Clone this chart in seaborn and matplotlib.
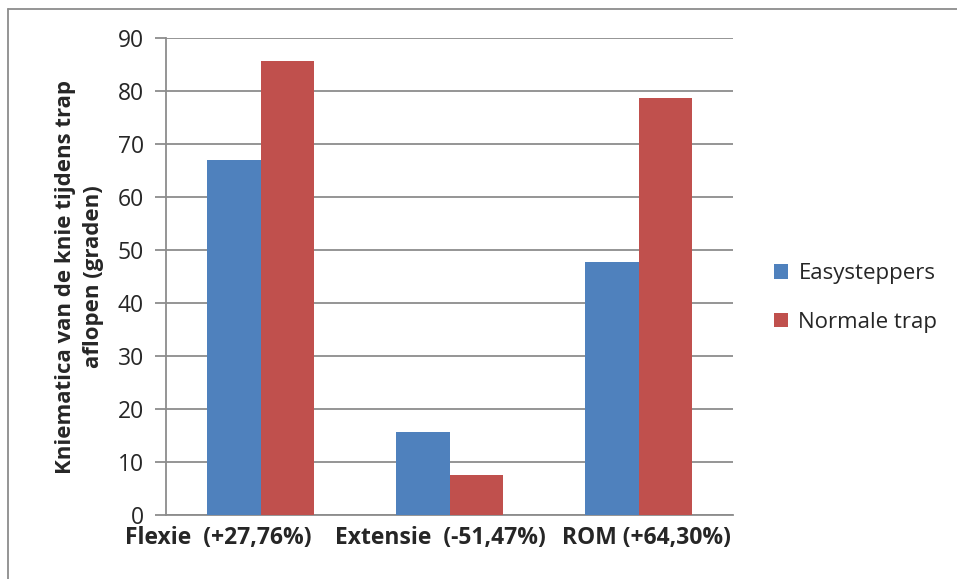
import seaborn as sns
import matplotlib.pyplot as plt
import matplotlib.transforms as mtransforms
import pandas as pd
from matplotlib.lines import Line2D

categories = ["Flexie  (+27,76%)", "Extensie  (-51,47%)", "ROM (+64,30%)"]
easysteppers = [67.0, 15.7, 47.8]
normale_trap = [85.7, 7.6, 78.7]
series = ["Easysteppers", "Normale trap"]
colors = ["#4F81BD", "#C0504D"]

df = pd.DataFrame({
    "categorie": categories * 2,
    "waarde": easysteppers + normale_trap,
    "serie": [series[0]] * 3 + [series[1]] * 3,
})

sns.set_style("white")
plt.rcParams["font.family"] = ["Open Sans", "DejaVu Sans"]

fig = plt.figure(figsize=(9.57, 5.79), dpi=100)
ax = fig.add_axes([166 / 957, 64 / 579, 567 / 957, 477 / 579])

sns.barplot(data=df, x="categorie", y="waarde", hue="serie", palette=colors,
            width=0.567, saturation=1, linewidth=0, ax=ax, zorder=3)

ax.set_ylim(0, 90)
ax.set_xlim(-0.5, 2.5)
ax.set_yticks(range(0, 91, 10))
ax.yaxis.grid(True, color="#8c8c8c", linewidth=1.3, zorder=0)
ax.set_axisbelow(True)
for s in ["top", "right"]:
    ax.spines[s].set_visible(False)
ax.spines["left"].set_color("#8c8c8c")
ax.spines["bottom"].set_color("#8c8c8c")
ax.spines["left"].set_linewidth(1.3)
ax.spines["bottom"].set_linewidth(1.3)
ax.tick_params(axis="y", length=8, width=1.3, color="#8c8c8c", labelsize=16.5, pad=8, left=True)
ax.tick_params(axis="x", length=0, labelsize=16.5, pad=8)

# Excel schuift de labels opzij zodat ze niet overlappen
shifts = [-42, -9, 8]
for lbl, dx in zip(ax.get_xticklabels(), shifts):
    lbl.set_fontweight("bold")
    lbl.set_transform(lbl.get_transform() + mtransforms.ScaledTranslation(dx / 100, 0, fig.dpi_scale_trans))

ax.set_xlabel("")
ax.set_ylabel("Kniematica van de knie tijdens trap\naflopen (graden)",
              fontsize=16, fontweight="bold", labelpad=10, linespacing=1.42)

ax.legend(loc="center left", bbox_to_anchor=(1.037, 0.455), frameon=False,
          fontsize=16, handlelength=0.65, handleheight=0.65, handletextpad=0.45,
          labelspacing=1.25)

fig.add_artist(Line2D([8 / 957, 8 / 957], [0, 1 - 9 / 579], color="#8c8c8c", linewidth=1.3))
fig.add_artist(Line2D([8 / 957, 1], [1 - 9 / 579, 1 - 9 / 579], color="#8c8c8c", linewidth=1.3))

fig.savefig("out.png", dpi=100)
